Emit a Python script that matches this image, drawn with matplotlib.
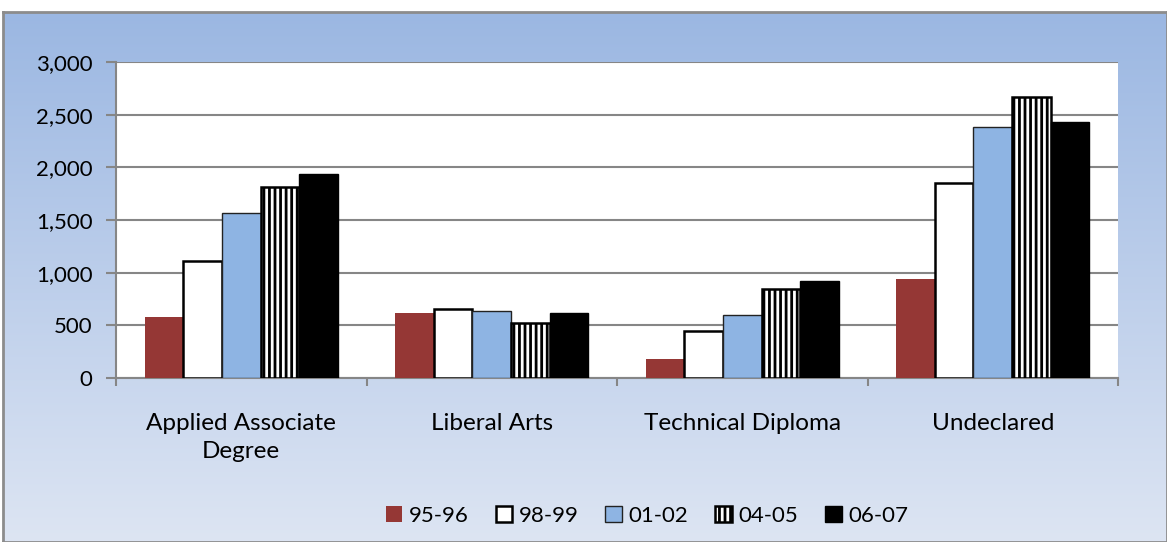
import numpy as np
import matplotlib.pyplot as plt

plt.rcParams['font.family'] = ['Lato', 'DejaVu Sans']
plt.rcParams['hatch.linewidth'] = 2.0

# DATA #
categories = ['Applied Associate\nDegree', 'Liberal Arts', 'Technical Diploma', 'Undeclared']
years = ['95-96', '98-99', '01-02', '04-05', '06-07']
y9596 = [575, 615, 185, 940]
y9899 = [1115, 655, 445, 1850]
y0102 = [1565, 640, 600, 2380]
y0405 = [1815, 525, 845, 2670]
y0607 = [1940, 620, 920, 2435]
series = [y9596, y9899, y0102, y0405, y0607]

faces = ['#953735', 'white', '#8EB4E3', 'white', 'black']
edges = ['#953735', 'black', '#222222', 'black', 'black']
widths = [0, 1.8, 1.0, 1.8, 1.0]
hatches = [None, None, None, '|||', None]

W, H = 1167, 542
fig = plt.figure(figsize=(W / 100, H / 100), dpi=100)

# background panel with vertical gradient
bg = fig.add_axes([3 / W, 0, 1 - 3 / W, (H - 12) / H])
grad = np.linspace(0, 1, 256).reshape(-1, 1)
top = np.array([0x9B, 0xB7, 0xE2]) / 255
bot = np.array([0xDD, 0xE5, 0xF3]) / 255
img = top + (bot - top) * grad[..., None]
bg.imshow(img, aspect='auto', extent=[0, 1, 0, 1], origin='upper')
bg.set_xlim(0, 1)
bg.set_ylim(0, 1)
bg.set_xticks([])
bg.set_yticks([])
for s in bg.spines.values():
    s.set_color('#8C8C8C')
    s.set_linewidth(2)

ax = fig.add_axes([116 / W, 1 - 378 / H, (1118 - 116) / W, (378 - 62) / H])
ax.set_facecolor('white')

x = np.arange(len(categories))
bw = 0.154
for i, vals in enumerate(series):
    ax.bar(x + (i - 2) * bw, vals, bw, color=faces[i], edgecolor=edges[i],
           linewidth=widths[i], hatch=hatches[i], label=years[i], zorder=3)

ax.set_xlim(-0.5, 3.5)
ax.set_ylim(0, 3000)
ax.set_yticks(np.arange(0, 3001, 500))
ax.set_yticklabels(['{:,}'.format(v) for v in range(0, 3001, 500)])
ax.yaxis.grid(True, color='#868686', linewidth=1.5, zorder=0)
ax.set_xticks(x)
ax.set_xticklabels(categories, linespacing=1.45)
ax.set_xticks(np.arange(-0.5, 4, 1), minor=True)
ax.tick_params(axis='x', which='major', length=0, pad=25, labelsize=17.5, colors='black')
ax.tick_params(axis='x', which='minor', length=6, width=1.5, color='#868686')
ax.tick_params(axis='y', length=7, width=1.5, color='#868686', labelsize=16, pad=10)
for s in ['top', 'right']:
    ax.spines[s].set_visible(False)
for s in ['left', 'bottom']:
    ax.spines[s].set_color('#868686')
    ax.spines[s].set_linewidth(1.5)

fig.legend(loc='center', bbox_to_anchor=(647 / W, 1 - 516 / H), ncol=5, frameon=False,
           fontsize=16, handlelength=0.75, handleheight=0.75, handletextpad=0.3,
           columnspacing=1.2)

fig.savefig('out.png', dpi=100)
